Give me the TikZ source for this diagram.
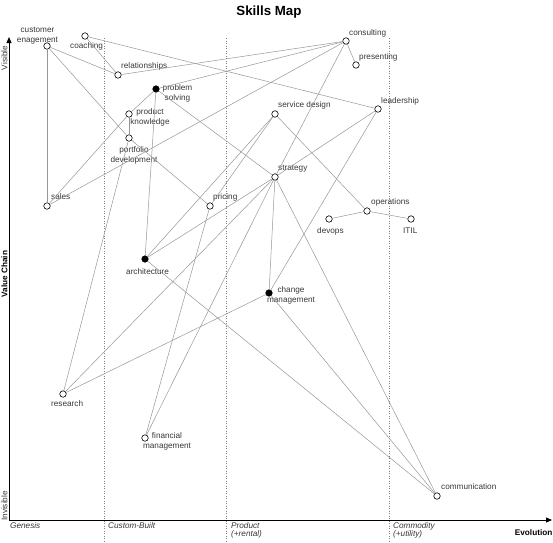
\documentclass[tikz,border=0pt]{standalone}
\usepackage{fontspec}
\setmainfont{Liberation Sans}
\usetikzlibrary{arrows.meta}
\definecolor{linkgray}{RGB}{150,150,150}
\definecolor{labelgray}{RGB}{55,55,55}

\begin{document}
\begin{tikzpicture}[x=1pt,y=-1pt,
  comp/.style={circle,draw=black,fill=white,line width=0.6pt,minimum size=6.5pt,inner sep=0pt},
  compx/.style={comp,fill=black},
  link/.style={draw=linkgray,line width=0.5pt},
  stage/.style={draw=gray,dotted,line width=0.5pt},
  txt/.style={font=\fontsize{8.2}{10}\selectfont,text=labelgray,inner sep=0pt},
  mtxt/.style={txt,align=center,anchor=north},
  evo/.style={txt,font=\fontsize{8.2}{8}\selectfont\itshape,align=left,anchor=north west}]
\useasboundingbox (0,0) rectangle (553,542);

\node[font=\fontsize{13.3}{15}\selectfont\bfseries,anchor=base] (title) at (269,15) {Skills Map};

\draw[stage] (104,38) -- (104,542);
\draw[stage] (226,38) -- (226,542);
\draw[stage] (389,38) -- (389,542);
\draw[line width=0.8pt,{Triangle[length=6pt,width=5pt]}-{Triangle[length=6pt,width=5pt]}] (9,37) -- (9,520) -- (552,520);

\node[txt,rotate=90] (visible) at (4.5,58) {Visible};
\node[txt,rotate=90,font=\fontsize{8.2}{10}\selectfont\bfseries,text=black] (valuechain) at (4.5,274) {Value Chain};
\node[txt,rotate=90] (invisible) at (4.5,506) {Invisible};
\node[evo] (genesis) at (10,522) {Genesis};
\node[evo] (custom) at (108,522) {Custom-Built};
\node[evo] (product) at (231,522) {Product\\(+rental)};
\node[evo] (commodity) at (393,522) {Commodity\\(+utility)};
\node[txt,font=\fontsize{8.2}{10}\selectfont\bfseries,text=black,anchor=base east] (evolution) at (552.5,535) {Evolution};

\node[comp] (cust) at (47,46) {};
\node[comp] (coach) at (85,36) {};
\node[comp] (rel) at (118,75) {};
\node[compx] (probsolv) at (156,89) {};
\node[comp] (prodknow) at (129,114) {};
\node[comp] (portdev) at (129,138) {};
\node[comp] (sales) at (47,206) {};
\node[comp] (pricing) at (210,206) {};
\node[compx] (arch) at (145,259) {};
\node[compx] (chgmgmt) at (269,293) {};
\node[comp] (research) at (63,394) {};
\node[comp] (finmgmt) at (145,438) {};
\node[comp] (consult) at (346,41) {};
\node[comp] (present) at (356,65) {};
\node[comp] (lead) at (378,109) {};
\node[comp] (servdes) at (275,114) {};
\node[comp] (strat) at (275,177) {};
\node[comp] (ops) at (367,211) {};
\node[comp] (devops) at (329,219) {};
\node[comp] (itil) at (411,219) {};
\node[comp] (comm) at (437,496) {};

\node[mtxt] (cust-l) at (37.5,27) {customer\\enagement};
\node[txt,anchor=base west] (coach-l) at (70,48) {coaching};
\node[txt,anchor=base west] (rel-l) at (121,68) {relationships};
\node[mtxt] (probsolv-l) at (177.5,84) {problem\\solving};
\node[mtxt] (prodknow-l) at (150,108) {product\\knowledge};
\node[mtxt] (portdev-l) at (134,146) {portfolio\\development};
\node[txt,anchor=base west] (sales-l) at (51,199) {sales};
\node[txt,anchor=base west] (pricing-l) at (213,199) {pricing};
\node[txt,anchor=base west] (arch-l) at (126,274) {architecture};
\node[mtxt] (chgmgmt-l) at (291,286) {change\\management};
\node[txt,anchor=base west] (research-l) at (51,406) {research};
\node[mtxt] (finmgmt-l) at (167,432) {financial\\management};
\node[txt,anchor=base west] (consult-l) at (349,35) {consulting};
\node[txt,anchor=base west] (present-l) at (359,59) {presenting};
\node[txt,anchor=base west] (lead-l) at (381,103) {leadership};
\node[txt,anchor=base west] (servdes-l) at (278,107) {service design};
\node[txt,anchor=base west] (strat-l) at (278,170) {strategy};
\node[txt,anchor=base west] (ops-l) at (371,204) {operations};
\node[txt,anchor=base west] (devops-l) at (317,233) {devops};
\node[txt,anchor=base west] (itil-l) at (403,233) {ITIL};
\node[txt,anchor=base west] (comm-l) at (441,489) {communication};

\draw[link] (cust) -- (rel);
\draw[link] (cust) -- (sales);
\draw[link] (cust) -- (portdev);
\draw[link] (coach) -- (rel);
\draw[link] (coach) -- (lead);
\draw[link] (rel) -- (consult);
\draw[link] (probsolv) -- (consult);
\draw[link] (sales) -- (consult);
\draw[link] (consult) -- (present);
\draw[link] (consult) -- (strat);
\draw[link] (probsolv) -- (prodknow);
\draw[link] (prodknow) -- (sales);
\draw[link] (prodknow) -- (portdev);
\draw[link] (portdev) -- (pricing);
\draw[link] (portdev) -- (research);
\draw[link] (probsolv) -- (arch);
\draw[link] (probsolv) -- (strat);
\draw[link] (servdes) -- (pricing);
\draw[link] (servdes) -- (arch);
\draw[link] (servdes) -- (ops);
\draw[link] (ops) -- (devops);
\draw[link] (ops) -- (itil);
\draw[link] (strat) -- (arch);
\draw[link] (strat) -- (lead);
\draw[link] (strat) -- (chgmgmt);
\draw[link] (strat) -- (research);
\draw[link] (strat) -- (finmgmt);
\draw[link] (strat) -- (comm);
\draw[link] (pricing) -- (finmgmt);
\draw[link] (lead) -- (chgmgmt);
\draw[link] (chgmgmt) -- (research);
\draw[link] (chgmgmt) -- (comm);
\draw[link] (arch) -- (comm);
\end{tikzpicture}
\end{document}
